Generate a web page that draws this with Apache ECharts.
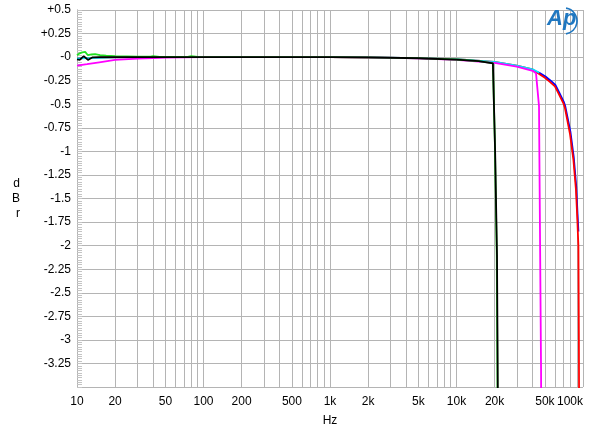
<!DOCTYPE html>
<html><head><meta charset="utf-8">
<script src="https://cdn.jsdelivr.net/npm/echarts@6/dist/echarts.min.js"></script>
<style>html,body{margin:0;padding:0;background:#fff}#c{width:600px;height:434px}</style>
</head><body><div id="c"></div>
<script>
// ---- data (frequency in Hz, level in dBr) ----
const xTickValues = [10,20,30,40,50,60,70,80,90,100,200,300,400,500,600,700,800,900,1000,2000,3000,4000,5000,6000,7000,8000,9000,10000,20000,30000,40000,50000,60000,70000,80000,90000,100000];
const xLabelValues = [10,20,50,100,200,500,1000,2000,5000,10000,20000,50000,100000];

const greenF  = [10, 10.5, 11, 11.6, 12.2, 13, 13.9, 15.2, 17, 20, 25, 30, 38, 40, 45, 60, 75, 80, 90, 150, 300, 1000, 2000, 5000, 10000, 15000, 19400, 20100, 20800, 21200];
const greenDb = [0.02, 0.04, 0.05, 0.055, 0.02, 0.028, 0.032, 0.02, 0.015, 0.01, 0.008, 0.005, 0.004, 0.01, 0.003, 0.002, 0.003, 0.01, 0.002, 0, 0, 0, -0.002, -0.01, -0.025, -0.042, -0.064, -0.9, -2.1, -4];

const blackF  = [10, 10.5, 11.3, 12.2, 13.3, 15, 20, 50, 100, 500, 1000, 2000, 5000, 10000, 15000, 19400, 20200, 20900, 21300];
const blackDb = [-0.025, -0.03, 0.01, -0.03, -0.002, 0, 0, 0, 0, 0, 0, -0.003, -0.012, -0.027, -0.042, -0.066, -1.0, -2.1, -4];

const magentaF  = [10, 12, 15, 20, 30, 40, 50, 100, 1000, 2000, 5000, 10000, 20000, 30000, 40000, 42500, 44900, 46600, 46800];
const magentaDb = [-0.09, -0.075, -0.055, -0.03, -0.015, -0.01, -0.005, 0, 0, -0.003, -0.012, -0.028, -0.06, -0.1, -0.145, -0.17, -0.52, -3.3, -4];

const cyanF  = [10, 15, 20, 50, 1000, 2000, 5000, 10000, 20000, 30000, 40000, 43000, 45000];
const cyanDb = [-0.013, -0.008, -0.003, 0, 0, -0.002, -0.01, -0.022, -0.05, -0.09, -0.13, -0.15, -0.165];

const blueF  = [43000, 45500, 50500, 55500, 60500, 64500, 70500, 72500, 79500, 84500, 88500, 90500, 92000];
const blueDb = [-0.155, -0.17, -0.205, -0.25, -0.295, -0.37, -0.475, -0.525, -0.79, -1.06, -1.38, -1.66, -1.85];

const redF  = [10, 20, 50, 1000, 5000, 10000, 20000, 30000, 40000, 45000, 50000, 55000, 60000, 64000, 70000, 72000, 79000, 84000, 88000, 90000, 92000, 92800, 93300];
const redDb = [-0.013, -0.003, 0, 0, -0.01, -0.022, -0.05, -0.09, -0.13, -0.18, -0.22, -0.265, -0.31, -0.385, -0.49, -0.54, -0.82, -1.09, -1.41, -1.69, -2.01, -3.0, -4];

const pairs = (f, d) => f.map((v, i) => [v, d[i]]);

const chart = echarts.init(document.getElementById('c'), null, {renderer: 'canvas'});
const font = 'Liberation Sans, Arial, sans-serif';
const mk = (name, color, f, d, z, yi) => ({
  name, type: 'line', data: pairs(f, d), showSymbol: false, symbol: 'none', yAxisIndex: yi || 0,
  lineStyle: {color, width: 1.8}, itemStyle: {color}, z, clip: true, animation: false
});

chart.setOption({
  animation: false,
  backgroundColor: '#ffffff',
  grid: {left: 77, right: 17, top: 10, bottom: 47, containLabel: false},
  xAxis: {
    type: 'log', logBase: 10, min: 10, max: 100000,
    name: 'Hz', nameLocation: 'middle', nameGap: 28,
    nameTextStyle: {fontFamily: font, fontSize: 12, color: '#000'},
    axisLine: {show: false},
    axisTick: {show: false, customValues: xTickValues},
    axisLabel: {
      customValues: xLabelValues, fontFamily: font, fontSize: 12, color: '#000', margin: 9,
      alignMaxLabel: 'right',
      formatter: v => v >= 1000 ? (v / 1000) + 'k' : String(v)
    },
    splitLine: {show: true, lineStyle: {color: '#b4b4b4', width: 1}},
    minorSplitLine: {show: false}
  },
  yAxis: [{
    type: 'value', min: -3.5, max: 0.5, interval: 0.25,
    name: 'd\nB\nr', nameLocation: 'middle', nameGap: 57, nameRotate: 0,
    nameTextStyle: {fontFamily: font, fontSize: 12, color: '#000', lineHeight: 15},
    axisLine: {show: true, lineStyle: {color: '#b4b4b4', width: 1}},
    axisTick: {show: false},
    axisLabel: {
      fontFamily: font, fontSize: 12, color: '#000', margin: 6,
      formatter: v => {
        if (Math.abs(v + 3.5) < 1e-9) return '';
        if (Math.abs(v) < 1e-9) return '-0';
        return (v > 0 ? '+' : '') + String(+v.toFixed(2));
      }
    },
    splitLine: {show: true, lineStyle: {color: '#b4b4b4', width: 1}}
  }, {
    // fine tick scale drawn inside the left edge (same range as the main axis)
    type: 'value', position: 'left', offset: 0, min: -3.5, max: 0.5, interval: 0.025,
    axisLine: {show: true, lineStyle: {color: '#b4b4b4', width: 1}},
    axisTick: {show: true, inside: true, length: 5, lineStyle: {color: '#c4c4c4', width: 1}},
    axisLabel: {show: false},
    splitLine: {show: false}
  }],
  graphic: [
    {type: 'text', left: 547, top: 8, z: 100,
     style: {text: 'Ap', fill: '#1f77c0', font: 'italic bold 22px ' + font}},
    {type: 'arc', z: 100, shape: {cx: 564, cy: 21, r: 13, startAngle: -Math.PI * 0.45, endAngle: Math.PI * 0.45},
     style: {stroke: '#1f77c0', lineWidth: 1.6, fill: null}}
  ],
  series: [
    mk('blue', '#0000ff', blueF, blueDb, 2, 0),
    mk('red', '#ff0000', redF, redDb, 3, 0),
    mk('cyan', '#00e5ff', cyanF, cyanDb, 4, 0),
    mk('magenta', '#ff00ff', magentaF, magentaDb, 5, 0),
    mk('green', '#22e022', greenF, greenDb, 6, 0),
    mk('black', '#000000', blackF, blackDb, 7, 1)
  ]
});
</script></body></html>
